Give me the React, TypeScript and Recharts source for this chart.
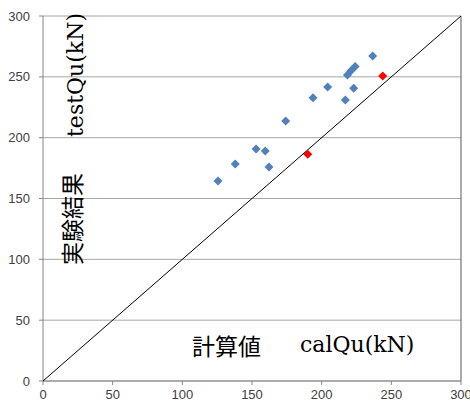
import React from "react";
import {
  ScatterChart,
  Scatter,
  XAxis,
  YAxis,
  CartesianGrid,
  ReferenceLine,
} from "recharts";

// calculated vs. test values (kN)
const calBlue = [125.6, 138, 152.9, 159.5, 162.2, 174.2, 193.8, 204.3, 217, 223, 218.5, 221, 224, 236.6];
const testBlue = [164.4, 178.4, 190.7, 189, 175.9, 213.7, 232.8, 241.6, 230.9, 240.6, 251.5, 255, 258.4, 267.1];
const calRed = [190, 243.8];
const testRed = [186.3, 250.7];
const diagonal = [0, 300];
const ticks = [0, 50, 100, 150, 200, 250, 300];

const blueData = calBlue.map((x, i) => ({ x, y: testBlue[i] }));
const redData = calRed.map((x, i) => ({ x, y: testRed[i] }));
const lineData = diagonal.map((v) => ({ x: v, y: v }));

const diamond = (color: string) => (props: any) => {
  const { cx, cy } = props;
  if (cx == null || cy == null) return <g />;
  const r = 4.5;
  return (
    <polygon
      points={`${cx},${cy - r} ${cx + r},${cy} ${cx},${cy + r} ${cx - r},${cy}`}
      fill={color}
    />
  );
};

const tickStyle = { fill: "#404040", fontSize: 13, fontFamily: "'Liberation Sans', Arial, sans-serif" };

export default function App() {
  return (
    <div style={{ position: "absolute", left: 0, top: 0, width: 470, height: 405, background: "#fff" }}>
      <ScatterChart width={470} height={405} margin={{ top: 16, right: 9, bottom: 0, left: 0 }}>
        <CartesianGrid vertical={false} stroke="#a6a6a6" strokeWidth={1} />
        <XAxis
          type="number"
          dataKey="x"
          domain={[0, 300]}
          ticks={ticks}
          height={24}
          tickSize={4}
          tickMargin={5}
          stroke="#868686"
          tick={tickStyle}
          interval={0}
        />
        <YAxis
          type="number"
          dataKey="y"
          domain={[0, 300]}
          ticks={ticks}
          width={43}
          tickSize={4}
          tickMargin={9}
          stroke="#868686"
          tick={tickStyle}
          interval={0}
        />
        <ReferenceLine x={300} stroke="#595959" strokeWidth={1} />
        <Scatter
          data={lineData}
          line={{ stroke: "#000", strokeWidth: 1 }}
          shape={() => <g />}
          isAnimationActive={false}
        />
        <Scatter data={blueData} shape={diamond("#4f81bd")} isAnimationActive={false} />
        <Scatter data={redData} shape={diamond("#ff0000")} isAnimationActive={false} />
      </ScatterChart>

      <div
        style={{
          position: "absolute",
          left: 75,
          top: 75,
          transform: "translate(-50%, -50%) rotate(-90deg)",
          fontFamily: "'DejaVu Serif', serif",
          fontSize: 22,
          whiteSpace: "nowrap",
          color: "#000",
        }}
      >
        testQu(kN)
      </div>
      <div
        style={{
          position: "absolute",
          left: 71,
          top: 219,
          transform: "translate(-50%, -50%) rotate(-90deg)",
          fontFamily: "'Noto Sans CJK JP', sans-serif",
          fontSize: 23,
          whiteSpace: "nowrap",
          color: "#000",
        }}
      >
        実験結果
      </div>
      <div
        style={{
          position: "absolute",
          left: 192,
          top: 330,
          fontFamily: "'Noto Sans CJK JP', sans-serif",
          fontSize: 23,
          lineHeight: "30px",
          whiteSpace: "nowrap",
          color: "#000",
        }}
      >
        計算値
      </div>
      <div
        style={{
          position: "absolute",
          left: 300,
          top: 331,
          fontFamily: "'DejaVu Serif', serif",
          fontSize: 22,
          lineHeight: "28px",
          whiteSpace: "nowrap",
          color: "#000",
        }}
      >
        calQu(kN)
      </div>
    </div>
  );
}
